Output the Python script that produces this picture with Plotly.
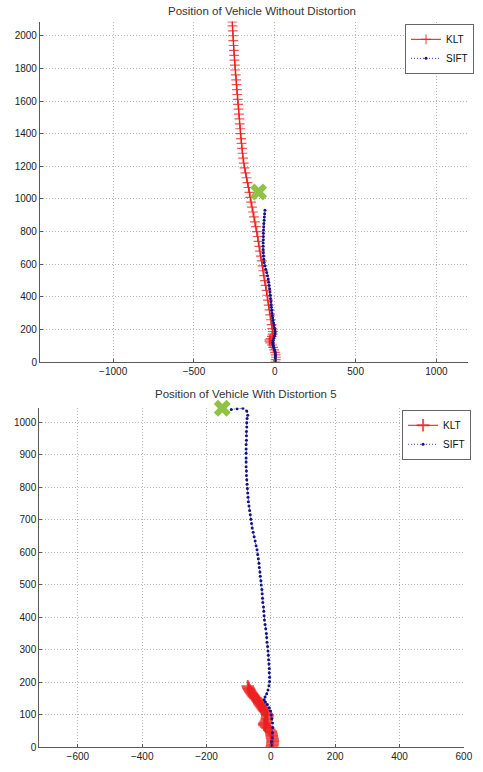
import plotly.graph_objects as go

# ---------- Top plot: without distortion ----------
klt1_y = [0, 15, 30, 45, 60, 75, 90, 105, 118, 128, 136, 145, 158, 172, 188, 205,
          230, 260, 290, 320, 350, 380, 410, 440, 470, 500, 530, 560, 590, 620, 650,
          680, 710, 740, 770, 800, 830, 860, 890, 920, 950, 980, 1010, 1040, 1070,
          1100, 1130, 1160, 1190, 1220, 1250, 1280, 1310, 1340, 1370, 1400, 1430,
          1460, 1490, 1520, 1550, 1580, 1610, 1640, 1670, 1700, 1730, 1760, 1790,
          1820, 1850, 1880, 1910, 1940, 1970, 2000, 2030, 2060, 2085]
klt1_x = [3, 6, 7, 5, 1, -4, -10, -18, -28, -34, -33, -26, -18, -13, -12, -16,
          -20, -24, -29, -33, -38, -42, -46, -51, -56, -61, -66, -71, -76, -81, -86,
          -91, -96, -101, -106, -111, -117, -123, -129, -135, -141, -147, -152, -157, -163,
          -169, -175, -181, -187, -192, -196, -200, -203, -206, -209, -212, -214,
          -217, -219, -222, -224, -227, -229, -232, -234, -237, -239, -242, -245,
          -247, -249, -251, -253, -255, -257, -258, -260, -262, -263]

sift1_y = [0, 12, 25, 38, 50, 62, 75, 88, 100, 111, 122, 135, 148, 160, 172, 185, 197,
           210, 225, 240, 255, 270, 285, 300, 318, 336, 354, 372, 390, 410, 430, 450,
           470, 490, 510, 530, 550, 570, 590, 610, 630, 650, 670, 690, 710, 730, 750,
           770, 790, 810, 830, 850, 870, 890, 910, 931]
sift1_x = [1, 2, 3, 4, 4, 2, -2, -6, -9, -11, -12, -10, -6, -2, 1, 2, 1,
           -2, -5, -8, -11, -13, -15, -17, -19, -21, -23, -24, -26, -28, -30, -32,
           -35, -38, -41, -45, -50, -56, -62, -66, -68, -70, -71, -72, -72, -72, -71,
           -71, -71, -70, -69, -68, -66, -65, -63, -61]

goal1_x = [-100]
goal1_y = [1042]

# ---------- Bottom plot: with distortion 5 ----------
klt2_y = [0, 5, 10, 15, 20, 25, 30, 35, 40, 45, 50, 55, 60, 64, 68, 71, 75, 80, 85, 90,
          95, 100, 104, 108, 112, 116, 120, 124, 128, 132, 136, 140, 144, 148, 152, 156,
          160, 164, 168, 172, 176, 180, 184, 188]
klt2_x = [2, 4, 5, 5, 6, 5, 4, 3, 2, 1, -1, -5, -10, -15, -19, -21, -19, -16, -13, -12,
          -11, -11, -13, -16, -19, -22, -25, -28, -31, -34, -36, -38, -41, -44, -48, -52,
          -55, -58, -61, -64, -66, -68, -70, -72]

sift2_y = [0, 8, 18, 30, 45, 61, 75, 88, 100, 112, 122, 132, 140, 147, 155, 165, 177, 190,
           203, 216, 230, 243, 257, 270, 284, 297, 311, 324, 338, 351, 365, 378, 392, 405,
           419, 432, 446, 459, 473, 486, 500, 513, 527, 540, 554, 567, 581, 594, 608, 621,
           635, 648, 662, 675, 689, 702, 716, 729, 743, 756, 770, 783, 797, 810, 824, 837,
           851, 864, 878, 891, 905, 918, 932, 945, 959, 972, 986, 999, 1012, 1022, 1035,
           1044, 1042, 1040]
sift2_x = [0, 1, 2, 4, 5, 6, 5, 3, 1, -1, -5, -11, -17, -21, -18, -13, -9, -6,
           -4, -4, -5, -5, -6, -7, -8, -9, -10, -12, -13, -14, -16, -18, -20, -21,
           -22, -23, -25, -26, -27, -28, -30, -31, -33, -34, -36, -37, -39, -41, -43, -46,
           -49, -52, -55, -58, -60, -62, -64, -66, -68, -70, -71, -72, -73, -74, -75, -76,
           -76, -77, -77, -77, -77, -77, -77, -76, -76, -76, -75, -75, -74, -72, -75,
           -87, -105, -123]

goal2_x = [-151]
goal2_y = [1044]

titles = ["Position of Vehicle Without Distortion", "Position of Vehicle With Distortion 5"]
series_names = ["KLT", "SIFT"]
x1_ticks = [-1000, -500, 0, 500, 1000]
x2_ticks = [-600, -400, -200, 0, 200, 400, 600]

FONT = "Liberation Sans, Arial, sans-serif"
KLT_LINE = "#e01010"
KLT_MARK = "rgba(236,30,30,0.75)"
SIFT_LINE = "#3a3ab0"
SIFT_MARK = "#12128a"
GOAL = "#8fc245"

fig = go.Figure()

def add_set(kx, ky, sx, sy, gx, gy, xa, ya, leg, msize, mwidth):
    fig.add_trace(go.Scatter(
        x=kx, y=ky, mode="lines+markers", name=series_names[0],
        line=dict(color=KLT_LINE, width=1),
        marker=dict(symbol="cross-thin", size=msize, line=dict(color=KLT_MARK, width=mwidth)),
        xaxis=xa, yaxis=ya, legend=leg))
    fig.add_trace(go.Scatter(
        x=sx, y=sy, mode="lines+markers", name=series_names[1],
        line=dict(color=SIFT_LINE, width=1, dash="1px,2px"),
        marker=dict(symbol="circle", size=3, color=SIFT_MARK),
        xaxis=xa, yaxis=ya, legend=leg))
    fig.add_trace(go.Scatter(
        x=gx, y=gy, mode="markers", showlegend=False, cliponaxis=False,
        marker=dict(symbol="x", size=15, color=GOAL, line=dict(width=0)),
        xaxis=xa, yaxis=ya))

add_set(klt1_x, klt1_y, sift1_x, sift1_y, goal1_x, goal1_y, "x", "y", "legend", 7, 1.2)
add_set(klt2_x, klt2_y, sift2_x, sift2_y, goal2_x, goal2_y, "x2", "y2", "legend2", 9, 2)

axis_common = dict(
    showgrid=True, gridcolor="#b4b4b4", griddash="1px,2px", gridwidth=1,
    showline=True, linecolor="#5a5a5a", linewidth=1, zeroline=False,
    ticks="inside", ticklen=3, tickcolor="#5a5a5a",
    tickfont=dict(family=FONT, size=10, color="#222222"),
)

W, H = 483, 772
legend_common = dict(
    bgcolor="white", bordercolor="#666666", borderwidth=1,
    font=dict(family=FONT, size=10, color="#111111"),
    xanchor="right", yanchor="top", itemwidth=30, tracegroupgap=0,
)

fig.update_layout(
    width=W, height=H,
    margin=dict(l=0, r=0, t=0, b=0),
    paper_bgcolor="white", plot_bgcolor="white",
    xaxis=dict(domain=[40.7 / W, 477 / W], range=[-1453, 1196], anchor="y",
               tickvals=x1_ticks, **axis_common),
    yaxis=dict(domain=[1 - 365 / H, 1 - 21.7 / H], range=[0, 2087], anchor="x",
               dtick=200, tick0=0, **axis_common),
    xaxis2=dict(domain=[40 / W, 472.7 / W], range=[-720, 600], anchor="y2",
                tickvals=x2_ticks, **axis_common),
    yaxis2=dict(domain=[1 - 753.3 / H, 1 - 410.7 / H], range=[0, 1046], anchor="x2",
                dtick=100, tick0=0, **axis_common),
    legend=dict(x=483 / W, y=1 - 24 / H, **legend_common),
    legend2=dict(x=480 / W, y=1 - 413 / H, **legend_common),
    annotations=[
        dict(text=titles[0], x=267 / W, y=1 - 11 / H, xref="paper", yref="paper",
             showarrow=False, xanchor="center", yanchor="middle",
             font=dict(family=FONT, size=11.5, color="#333333")),
        dict(text=titles[1], x=251 / W, y=1 - 397 / H, xref="paper", yref="paper",
             showarrow=False, xanchor="center", yanchor="middle",
             font=dict(family=FONT, size=11.5, color="#333333")),
    ],
)

fig.write_html("out.html")
